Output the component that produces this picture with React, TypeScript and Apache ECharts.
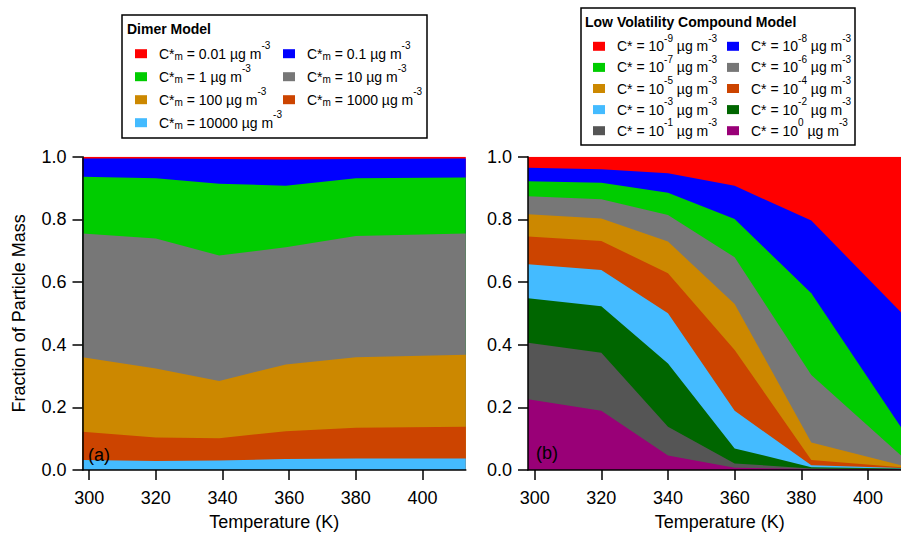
import React, { useEffect, useRef } from "react";
import * as echarts from "echarts";

const FONT = "'Liberation Sans', Arial, Helvetica, sans-serif";

// ---------- data ----------
const xTicks = [300, 320, 340, 360, 380, 400];
const xMin = 298;
const xMax = 413;

// (a) Dimer model: temperatures and cumulative fraction at the top of each layer
const dimerTemps = [298, 320, 339, 359, 380, 413];
const dimerCm = ["0.01", "0.1", "1", "10", "100", "1000", "10000"];
const dimerColors = ["#FF0000", "#0000FF", "#00CC00", "#777777", "#CC8800", "#CC4400", "#44BBFF"];
const dimerTop001 = [1, 1, 1, 1, 1, 1];
const dimerTop01 = [0.994, 0.994, 0.993, 0.991, 0.993, 0.994];
const dimerTop1 = [0.936, 0.931, 0.914, 0.907, 0.931, 0.934];
const dimerTop10 = [0.755, 0.739, 0.685, 0.711, 0.747, 0.755];
const dimerTop100 = [0.36, 0.324, 0.284, 0.337, 0.36, 0.368];
const dimerTop1000 = [0.122, 0.104, 0.101, 0.124, 0.135, 0.138];
const dimerTop10000 = [0.032, 0.029, 0.03, 0.035, 0.037, 0.037];
const dimerTops = [dimerTop001, dimerTop01, dimerTop1, dimerTop10, dimerTop100, dimerTop1000, dimerTop10000];
const dimerCol1 = [0, 2, 4, 6];
const dimerCol2 = [1, 3, 5];

// (b) Low volatility compound model
const lvcTemps = [298, 320, 340, 360, 383, 413];
const lvcExp = ["-9", "-8", "-7", "-6", "-5", "-4", "-3", "-2", "-1", "0"];
const lvcColors = ["#FF0000", "#0000FF", "#00CC00", "#777777", "#CC8800", "#CC4400", "#44BBFF", "#006600", "#555555", "#990077"];
const lvcTopM9 = [1, 1, 1, 1, 1, 1];
const lvcTopM8 = [0.965, 0.96, 0.947, 0.907, 0.796, 0.47];
const lvcTopM7 = [0.922, 0.917, 0.885, 0.801, 0.564, 0.087];
const lvcTopM6 = [0.874, 0.864, 0.814, 0.679, 0.303, 0.017];
const lvcTopM5 = [0.816, 0.803, 0.729, 0.53, 0.088, 0.007];
const lvcTopM4 = [0.745, 0.731, 0.628, 0.383, 0.032, 0.006];
const lvcTopM3 = [0.657, 0.638, 0.5, 0.189, 0.015, 0.005];
const lvcTopM2 = [0.548, 0.523, 0.34, 0.069, 0.009, 0.004];
const lvcTopM1 = [0.406, 0.374, 0.138, 0.021, 0.005, 0.003];
const lvcTop0 = [0.226, 0.189, 0.046, 0.007, 0.003, 0.002];
const lvcTops = [lvcTopM9, lvcTopM8, lvcTopM7, lvcTopM6, lvcTopM5, lvcTopM4, lvcTopM3, lvcTopM2, lvcTopM1, lvcTop0];
const lvcCol1 = [0, 2, 4, 6, 8];
const lvcCol2 = [1, 3, 5, 7, 9];

// ---------- helpers ----------
const dimerName = (v: string) => `Cm ${v}`;
const lvcName = (e: string) => `C 1e${e}`;

const labelMap: Record<string, string> = {};
dimerCm.forEach((v) => {
  labelMap[dimerName(v)] = `{sp| }{t|C*}{sub|m}{t| = ${v} µg m}{sup|-3}`;
});
lvcExp.forEach((e) => {
  labelMap[lvcName(e)] = `{sp| }{t|C* = 10}{sup|${e}}{t| µg m}{sup|-3}`;
});

const rich = {
  sp: { width: 7, fontSize: 14, fontFamily: FONT, lineHeight: 16 },
  t: { fontSize: 14, fontFamily: FONT, color: "#000", lineHeight: 16 },
  sub: { fontSize: 10, fontFamily: FONT, color: "#000", lineHeight: 16, padding: [3, 0, -3, 0] },
  sup: { fontSize: 10, fontFamily: FONT, color: "#000", lineHeight: 16, padding: [-8, 0, 8, 0] },
};

function legendBlock(names: string[], colors: string[], left: number, top: number, gap: number) {
  return {
    show: true,
    orient: "vertical",
    left,
    top,
    padding: 0,
    itemGap: gap,
    itemWidth: 12,
    itemHeight: 9,
    icon: "rect",
    selectedMode: false,
    itemStyle: { borderWidth: 0 },
    data: names.map((n, i) => ({ name: n, icon: "rect", itemStyle: { color: colors[i], borderWidth: 0 } })),
    formatter: (n: string) => labelMap[n] || n,
    textStyle: { fontSize: 14, fontFamily: FONT, color: "#000", lineHeight: 16, rich },
  };
}

function xAxisCfg(gridIndex: number) {
  return {
    type: "value",
    gridIndex,
    min: xMin,
    max: xMax,
    z: 10,
    name: "Temperature (K)",
    nameLocation: "middle",
    nameGap: 43,
    nameTextStyle: { fontSize: 18, fontFamily: FONT, color: "#000" },
    axisLine: { show: true, onZero: false, lineStyle: { color: "#000", width: 1.5 } },
    axisTick: { show: true, inside: false, length: 10, customValues: xTicks, lineStyle: { color: "#000", width: 1.5 } },
    axisLabel: { show: true, margin: 19, customValues: xTicks, fontSize: 18, fontFamily: FONT, color: "#000" },
    splitLine: { show: false },
  };
}

function yAxisCfg(gridIndex: number, withName: boolean) {
  return {
    type: "value",
    gridIndex,
    min: 0,
    max: 1,
    interval: 0.2,
    z: 10,
    name: withName ? "Fraction of Particle Mass" : "",
    nameLocation: "middle",
    nameGap: 55,
    nameTextStyle: { fontSize: 18, fontFamily: FONT, color: "#000" },
    axisLine: { show: true, lineStyle: { color: "#000", width: 1.5 } },
    axisTick: { show: true, inside: false, length: 10, lineStyle: { color: "#000", width: 1.5 } },
    axisLabel: {
      show: true,
      margin: 16,
      fontSize: 18,
      fontFamily: FONT,
      color: "#000",
      formatter: (v: number) => v.toFixed(1),
    },
    splitLine: { show: false },
  };
}

function areaSeries(name: string, temps: number[], tops: number[], color: string, axisIndex: number) {
  return {
    type: "line",
    name,
    xAxisIndex: axisIndex,
    yAxisIndex: axisIndex,
    data: temps.map((t, i) => [t, tops[i]]),
    symbol: "none",
    showSymbol: false,
    silent: true,
    clip: true,
    color,
    itemStyle: { color },
    lineStyle: { width: 0, color },
    areaStyle: { color, opacity: 1 },
  };
}

export default function App() {
  const ref = useRef<HTMLDivElement>(null);

  useEffect(() => {
    document.body.style.margin = "0";
    if (!ref.current) return;
    const chart = echarts.init(ref.current, undefined, { renderer: "svg" });

    const series: any[] = [];
    dimerCm.forEach((v, i) => series.push(areaSeries(dimerName(v), dimerTemps, dimerTops[i], dimerColors[i], 0)));
    lvcExp.forEach((e, i) => series.push(areaSeries(lvcName(e), lvcTemps, lvcTops[i], lvcColors[i], 1)));

    const option: any = {
      animation: false,
      backgroundColor: "#fff",
      grid: [
        { left: 82.5, top: 156.7, width: 383.3, height: 313.3, outerBoundsMode: "none", containLabel: false },
        { left: 528, top: 156.7, width: 383.3, height: 313.3, outerBoundsMode: "none", containLabel: false },
      ],
      xAxis: [xAxisCfg(0), xAxisCfg(1)],
      yAxis: [yAxisCfg(0, true), yAxisCfg(1, false)],
      legend: [
        legendBlock(dimerCol1.map((i) => dimerName(dimerCm[i])), dimerCol1.map((i) => dimerColors[i]), 135, 40.7, 2),
        legendBlock(dimerCol2.map((i) => dimerName(dimerCm[i])), dimerCol2.map((i) => dimerColors[i]), 283, 40.7, 2),
        legendBlock(lvcCol1.map((i) => lvcName(lvcExp[i])), lvcCol1.map((i) => lvcColors[i]), 593, 33.3, 0.1),
        legendBlock(lvcCol2.map((i) => lvcName(lvcExp[i])), lvcCol2.map((i) => lvcColors[i]), 727, 33.3, 0.1),
      ],
      graphic: [
        { type: "rect", shape: { x: 122, y: 15, width: 305, height: 123 }, style: { fill: "none", stroke: "#000", lineWidth: 1.5 } },
        { type: "rect", shape: { x: 581, y: 8, width: 274, height: 137 }, style: { fill: "none", stroke: "#000", lineWidth: 1.5 } },
        {
          type: "text",
          x: 127,
          y: 29,
          style: { text: "Dimer Model", fontSize: 14, fontWeight: "bold", fontFamily: FONT, fill: "#000", align: "left", verticalAlign: "middle" },
        },
        {
          type: "text",
          x: 585,
          y: 22,
          style: { text: "Low Volatility Compound Model", fontSize: 14, fontWeight: "bold", fontFamily: FONT, fill: "#000", align: "left", verticalAlign: "middle" },
        },
        {
          type: "text",
          x: 88,
          y: 455,
          z: 100,
          style: { text: "(a)", fontSize: 18, fontFamily: FONT, fill: "#000", align: "left", verticalAlign: "middle" },
        },
        {
          type: "text",
          x: 536,
          y: 453,
          z: 100,
          style: { text: "(b)", fontSize: 18, fontFamily: FONT, fill: "#000", align: "left", verticalAlign: "middle" },
        },
      ],
      series,
    };

    chart.setOption(option);
    return () => {
      chart.dispose();
    };
  }, []);

  return <div ref={ref} style={{ width: 901, height: 534 }} />;
}
